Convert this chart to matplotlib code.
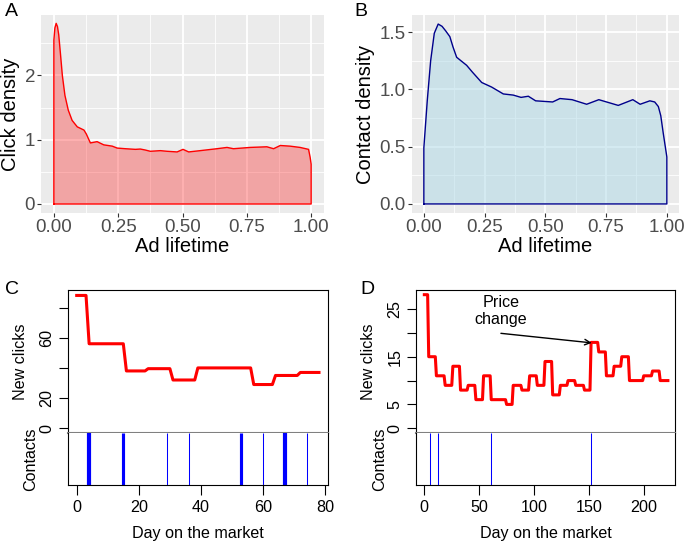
import numpy as np
import matplotlib.pyplot as plt

plt.rcParams['font.family'] = ['Liberation Sans', 'DejaVu Sans']

# Panel A: click density over ad lifetime
click_x = [0.0, 0.004, 0.009, 0.014, 0.019, 0.026, 0.033, 0.043, 0.056, 0.071, 0.091,
           0.117, 0.126, 0.142, 0.168, 0.194, 0.227, 0.246, 0.278, 0.317, 0.336, 0.355,
           0.375, 0.414, 0.44, 0.479, 0.502, 0.524, 0.569, 0.634, 0.673, 0.698, 0.763,
           0.828, 0.854, 0.88, 0.918, 0.957, 0.99, 0.996, 1.0]
click_y = [2.55, 2.74, 2.81, 2.76, 2.63, 2.32, 2.0, 1.69, 1.46, 1.30, 1.20,
           1.15, 1.09, 0.95, 0.97, 0.92, 0.90, 0.87, 0.86, 0.85, 0.855, 0.84,
           0.82, 0.83, 0.82, 0.81, 0.85, 0.81, 0.83, 0.86, 0.88, 0.86, 0.88,
           0.89, 0.86, 0.91, 0.90, 0.88, 0.85, 0.73, 0.62]

# Panel B: contact density over ad lifetime
contact_x = [0.0, 0.014, 0.028, 0.043, 0.059, 0.075, 0.09, 0.107, 0.12, 0.135, 0.176,
             0.2, 0.238, 0.279, 0.327, 0.368, 0.40, 0.43, 0.46, 0.53, 0.56, 0.61, 0.67,
             0.72, 0.80, 0.86, 0.89, 0.93, 0.95, 0.965, 0.975, 0.985, 1.0]
contact_y = [0.49, 0.90, 1.25, 1.49, 1.57, 1.55, 1.51, 1.46, 1.37, 1.28, 1.21,
             1.15, 1.06, 1.02, 0.96, 0.95, 0.93, 0.94, 0.90, 0.89, 0.92, 0.91, 0.87,
             0.91, 0.86, 0.91, 0.87, 0.90, 0.89, 0.85, 0.77, 0.62, 0.41]

# Panel C: one ad, new clicks per day (level changes) and contacts
c_start = [0, 4, 16, 23, 31, 39, 57, 64, 72]
c_clicks = [88, 56, 38, 39.5, 32, 40, 29, 35, 37]
c_end = 78
c_contact_days = [4, 15, 29, 36, 53, 60, 67, 74]
c_contact_n = [4, 3, 1, 1, 3, 1, 4, 1]

# Panel D: another ad with a price change
d_start = [0, 4, 11, 19, 26, 33, 40, 47, 54, 61, 75, 81, 89, 96, 103, 110, 117, 124,
           131, 138, 146, 152, 159, 166, 173, 180, 187, 200, 208, 215]
d_clicks = [28, 15, 11, 9, 13, 8, 9, 6, 11, 6, 5, 9, 8, 11, 9, 14, 7, 9,
            10, 9, 8, 18, 16, 11, 13, 15, 10, 11, 12, 10]
d_end = 222
d_contact_days = [5, 12, 61, 152]
d_contact_n = [1, 1, 1, 1]

W, H = 685, 545
fig = plt.figure(figsize=(W / 100, H / 100), dpi=100)


def rect(l, t, r, b):
    return [l / W, 1 - b / H, (r - l) / W, (b - t) / H]


def gg_panel(ax, x, y, line, fill, alpha, ylim, yticks, yminor, ylabels, ylabel):
    ax.set_facecolor('#EBEBEB')
    for s in ax.spines.values():
        s.set_visible(False)
    ax.set_xlim(-0.05, 1.05)
    ax.set_ylim(*ylim)
    xt = [0, 0.25, 0.5, 0.75, 1.0]
    for v in [0.125, 0.375, 0.625, 0.875]:
        ax.axvline(v, color='white', lw=0.6, zorder=0)
    for v in yminor:
        ax.axhline(v, color='white', lw=0.6, zorder=0)
    for v in xt:
        ax.axvline(v, color='white', lw=1.3, zorder=0)
    for v in yticks:
        ax.axhline(v, color='white', lw=1.3, zorder=0)
    xx = np.concatenate([[x[0]], x, [x[-1]]])
    yy = np.concatenate([[0], y, [0]])
    ax.fill(xx, yy, color=fill, alpha=alpha, lw=0, zorder=1)
    ax.plot(np.append(xx, xx[0]), np.append(yy, 0), color=line, lw=1.0, zorder=2)
    ax.set_xticks(xt)
    ax.set_xticklabels(['0.00', '0.25', '0.50', '0.75', '1.00'])
    ax.set_yticks(yticks)
    ax.set_yticklabels(ylabels)
    ax.tick_params(length=2.8, width=0.8, color='#333333', labelcolor='#4D4D4D',
                   labelsize=13.5, pad=1.5)
    ax.set_xlabel('Ad lifetime', fontsize=14.5, labelpad=1)
    ax.set_ylabel(ylabel, fontsize=14.5, labelpad=3)


axA = fig.add_axes(rect(41, 15, 324, 213))
gg_panel(axA, click_x, click_y, 'red', 'red', 0.3, (-0.14, 2.94),
         [0, 1, 2], [0.5, 1.5, 2.5], ['0', '1', '2'], 'Click density')

axB = fig.add_axes(rect(411.7, 15, 679, 213))
gg_panel(axB, contact_x, contact_y, 'darkblue', 'lightblue', 0.5, (-0.079, 1.649),
         [0, 0.5, 1.0, 1.5], [0.25, 0.75, 1.25], ['0.0', '0.5', '1.0', '1.5'],
         'Contact density')


def step_line(starts, vals, end):
    xs, ys = [], []
    for i, v in enumerate(vals):
        xs.append(starts[i])
        ys.append(v)
        stop = starts[i + 1] - 1 if i + 1 < len(starts) else end
        xs.append(stop)
        ys.append(v)
    return xs, ys


def base_panel(l, r, starts, vals, end, cdays, cn, xlim, ylim, yticks, ylabels, xticks):
    top = fig.add_axes(rect(l, 290, r, 433.3))
    bot = fig.add_axes(rect(l, 433.3, r, 485), sharex=top)
    xs, ys = step_line(starts, vals, end)
    top.plot(xs, ys, color='red', lw=2.2)
    top.set_xlim(*xlim)
    top.set_ylim(*ylim)
    top.set_yticks(yticks)
    top.set_yticklabels(ylabels, rotation=90, va='center')
    top.tick_params(axis='y', length=6.8, width=0.8, labelsize=11.6, pad=3)
    top.tick_params(axis='x', bottom=False, labelbottom=False)
    for s in ['top', 'left', 'right']:
        top.spines[s].set_linewidth(0.8)
    top.spines['bottom'].set_color('#808080')
    top.spines['bottom'].set_linewidth(1.5)
    top.set_ylabel('New clicks', fontsize=11.6, labelpad=8)

    for d, n in zip(cdays, cn):
        bot.axvline(d, color='#0000FF', lw=0.75 * n, solid_capstyle='butt')
    bot.set_ylim(0, 1)
    bot.set_yticks([])
    bot.spines['top'].set_visible(False)
    for s in ['bottom', 'left', 'right']:
        bot.spines[s].set_linewidth(0.8)
    bot.set_xticks(xticks)
    bot.set_xticklabels([str(t) for t in xticks])
    bot.tick_params(axis='x', length=7, width=0.8, labelsize=11.6, pad=4)
    bot.set_xlabel('Day on the market', fontsize=11.6, labelpad=8)
    bot.set_ylabel('Contacts', fontsize=11.6, labelpad=21)
    return top, bot


topC, botC = base_panel(67.7, 328.3, c_start, c_clicks, c_end, c_contact_days, c_contact_n,
                        (-2.9, 81.0), (-3.3, 91.6), [0, 20, 40, 60, 80],
                        ['0', '20', '', '60', ''], [0, 20, 40, 60, 80])

topD, botD = base_panel(416, 675, d_start, d_clicks, d_end, d_contact_days, d_contact_n,
                        (-7.6, 228.5), (-1.05, 28.98), [0, 5, 10, 15, 20, 25],
                        ['0', '5', '', '15', '', '25'], [0, 50, 100, 150, 200])
topD.text(70, 24.6, 'Price\nchange', ha='center', va='center', fontsize=11.6)
topD.annotate('', xy=(152.6, 17.9), xytext=(69.8, 19.9),
              arrowprops=dict(arrowstyle='->', lw=1.0, color='black',
                              shrinkA=0, shrinkB=0))

for lab, x, y in [('A', 11, 12), ('B', 361, 12), ('C', 12, 289), ('D', 367, 289)]:
    fig.text(x / W, 1 - y / H, lab, fontsize=14, ha='center', va='center')

fig.savefig('out.png', dpi=100)
